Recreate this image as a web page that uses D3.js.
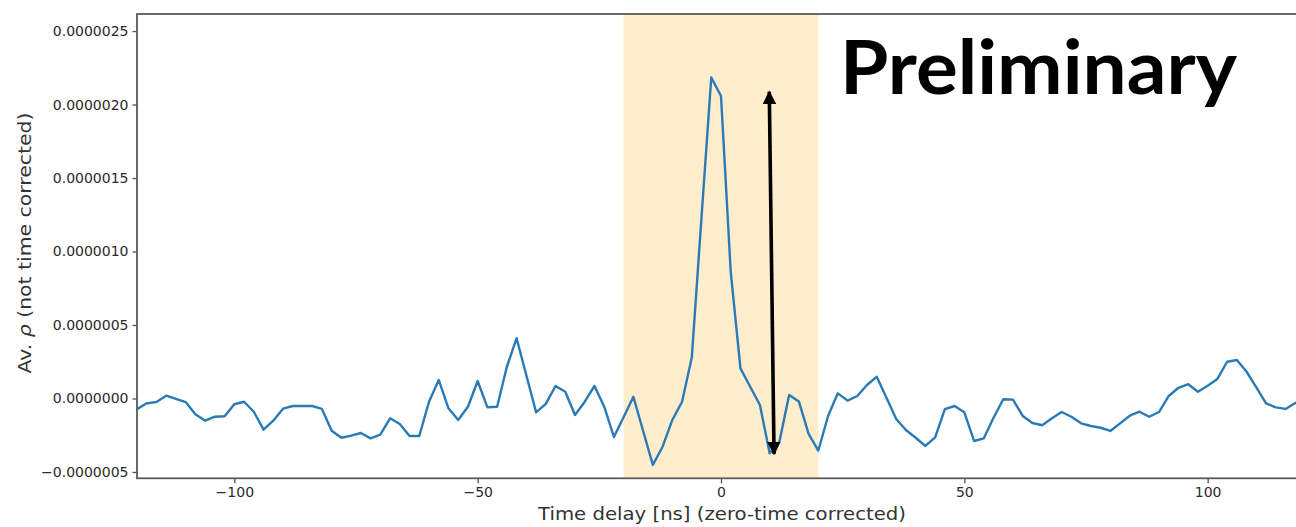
<!DOCTYPE html>
<html>
<head>
<meta charset="utf-8">
<script src="https://cdn.jsdelivr.net/npm/d3@7"></script>
<style>
  html, body { margin: 0; padding: 0; background: #fff; }
  svg { display: block; }
</style>
</head>
<body>
<svg id="chart" width="1296" height="527"></svg>
<script>
// ---- data ----
const timeDelay = d3.range(-120, 121, 2); // ns, sampling every 2 ns
const rhoValues = [ // units of 1e-6
  -0.073, -0.033, -0.024, 0.019, -0.003, -0.024, -0.107, -0.151, -0.124, -0.121,
  -0.039, -0.022, -0.090, -0.212, -0.151, -0.069, -0.051, -0.051, -0.051, -0.071,
  -0.219, -0.267, -0.253, -0.235, -0.271, -0.246, -0.135, -0.173, -0.255, -0.255,
  -0.022, 0.126, -0.067, -0.146, -0.056, 0.119, -0.060, -0.056, 0.216, 0.410,
  0.158, -0.094, -0.037, 0.085, 0.046, -0.112, -0.022, 0.085, -0.056, -0.262,
  -0.126, 0.012, -0.221, -0.452, -0.328, -0.146, -0.022, 0.279, 1.235, 2.184,
  2.058, 0.861, 0.205, 0.080, -0.044, -0.373, -0.294, 0.024, -0.020, -0.241,
  -0.354, -0.119, 0.035, -0.014, 0.017, 0.092, 0.148, 0.005, -0.139, -0.214,
  -0.267, -0.323, -0.264, -0.073, -0.051, -0.094, -0.289, -0.271, -0.131, -0.005,
  -0.008, -0.119, -0.167, -0.182, -0.135, -0.092, -0.124, -0.169, -0.187, -0.199,
  -0.221, -0.169, -0.117, -0.090, -0.124, -0.092, 0.017, 0.073, 0.097, 0.046,
  0.087, 0.133, 0.250, 0.262, 0.182, 0.076, -0.033, -0.060, -0.071, -0.031,
  -0.020
].map(v => v * 1e-6);
const xTicks = [-100, -50, 0, 50, 100];
const yTicks = [-0.0000005, 0, 0.0000005, 0.000001, 0.0000015, 0.000002, 0.0000025];
const xDomain = [-120, 120];
const yDomain = [-0.543e-6, 2.616e-6];
const windowRange = [-20, 20];               // shaded coincidence window (ns)
const arrowStart = [10.9, -0.378e-6];        // [ns, rho]
const arrowEnd = [9.92, 2.087e-6];
const xLabel = "Time delay [ns] (zero-time corrected)";
const yLabelParts = ["Av. ", "ρ", " (not time corrected)"];
const stampText = "Preliminary";

// ---- layout ----
const svg = d3.select("#chart");
const mLeft = 137, mTop = 14, plotW = 1168, mBottom = 478.3;
const x = d3.scaleLinear().domain(xDomain).range([mLeft, mLeft + plotW]);
const y = d3.scaleLinear().domain(yDomain).range([mBottom, mTop]);

const defs = svg.append("defs");
defs.append("clipPath").attr("id", "plotclip")
  .append("rect").attr("x", mLeft).attr("y", mTop).attr("width", plotW).attr("height", mBottom - mTop);
defs.append("marker").attr("id", "ah")
  .attr("viewBox", "0 0 10 10").attr("refX", 9).attr("refY", 5)
  .attr("markerWidth", 3.8).attr("markerHeight", 3.8)
  .attr("markerUnits", "strokeWidth").attr("orient", "auto-start-reverse")
  .append("path").attr("d", "M0,0 L10,5 L0,10 Z").attr("fill", "#000");

const plot = svg.append("g").attr("clip-path", "url(#plotclip)");

// shaded window
plot.append("rect")
  .attr("x", x(windowRange[0])).attr("y", mTop)
  .attr("width", x(windowRange[1]) - x(windowRange[0]))
  .attr("height", mBottom - mTop)
  .attr("fill", "#ffedcc");

// data line
plot.append("path")
  .datum(timeDelay.map((t, i) => [t, rhoValues[i]]))
  .attr("fill", "none")
  .attr("stroke", "#2a7ab8")
  .attr("stroke-width", 2.4)
  .attr("stroke-linejoin", "round")
  .attr("d", d3.line().x(d => x(d[0])).y(d => y(d[1])));

// axes
const fmtY = d3.format(".7f");
const xAxis = d3.axisBottom(x).tickValues(xTicks).tickFormat(d3.format("d")).tickSize(5).tickPadding(4);
const yAxis = d3.axisLeft(y).tickValues(yTicks).tickFormat(fmtY).tickSize(4.5).tickPadding(4);

const gx = svg.append("g").attr("transform", `translate(0,${mBottom})`).call(xAxis);
const gy = svg.append("g").attr("transform", `translate(${mLeft},0)`).call(yAxis);
[gx, gy].forEach(g => {
  g.select(".domain").remove();
  g.selectAll(".tick line").attr("stroke", "#555").attr("stroke-width", 1.3);
  g.selectAll(".tick text").attr("fill", "#2a2a2a")
    .style("font-family", "DejaVu Sans").style("font-size", "14px");
});

// frame
svg.append("rect")
  .attr("x", mLeft).attr("y", mTop).attr("width", plotW).attr("height", mBottom - mTop)
  .attr("fill", "none").attr("stroke", "#5a5a5a").attr("stroke-width", 1.8);

// axis labels
svg.append("text")
  .attr("x", (537 + 907) / 2).attr("y", 520)
  .attr("text-anchor", "middle")
  .attr("textLength", 368).attr("lengthAdjust", "spacingAndGlyphs")
  .style("font-family", "DejaVu Sans").style("font-size", "18.5px").attr("fill", "#333")
  .text(xLabel);

const yl = svg.append("text")
  .attr("transform", "translate(31,243) rotate(-90)")
  .attr("text-anchor", "middle")
  .attr("textLength", 261).attr("lengthAdjust", "spacingAndGlyphs")
  .style("font-family", "DejaVu Sans").style("font-size", "18px").attr("fill", "#333");
yl.append("tspan").text(yLabelParts[0]);
yl.append("tspan").style("font-style", "italic").text(yLabelParts[1]);
yl.append("tspan").text(yLabelParts[2]);

// arrow annotation
svg.append("line")
  .attr("x1", x(arrowStart[0])).attr("y1", y(arrowStart[1]))
  .attr("x2", x(arrowEnd[0])).attr("y2", y(arrowEnd[1]))
  .attr("stroke", "#000").attr("stroke-width", 3.6)
  .attr("marker-start", "url(#ah)").attr("marker-end", "url(#ah)");

// stamp
svg.append("text")
  .attr("x", 840).attr("y", 94.3)
  .attr("textLength", 397).attr("lengthAdjust", "spacingAndGlyphs")
  .style("font-family", "Lato, 'Open Sans', sans-serif").style("font-weight", "bold")
  .style("font-size", "75px").attr("fill", "#000")
  .text(stampText);
</script>
</body>
</html>
